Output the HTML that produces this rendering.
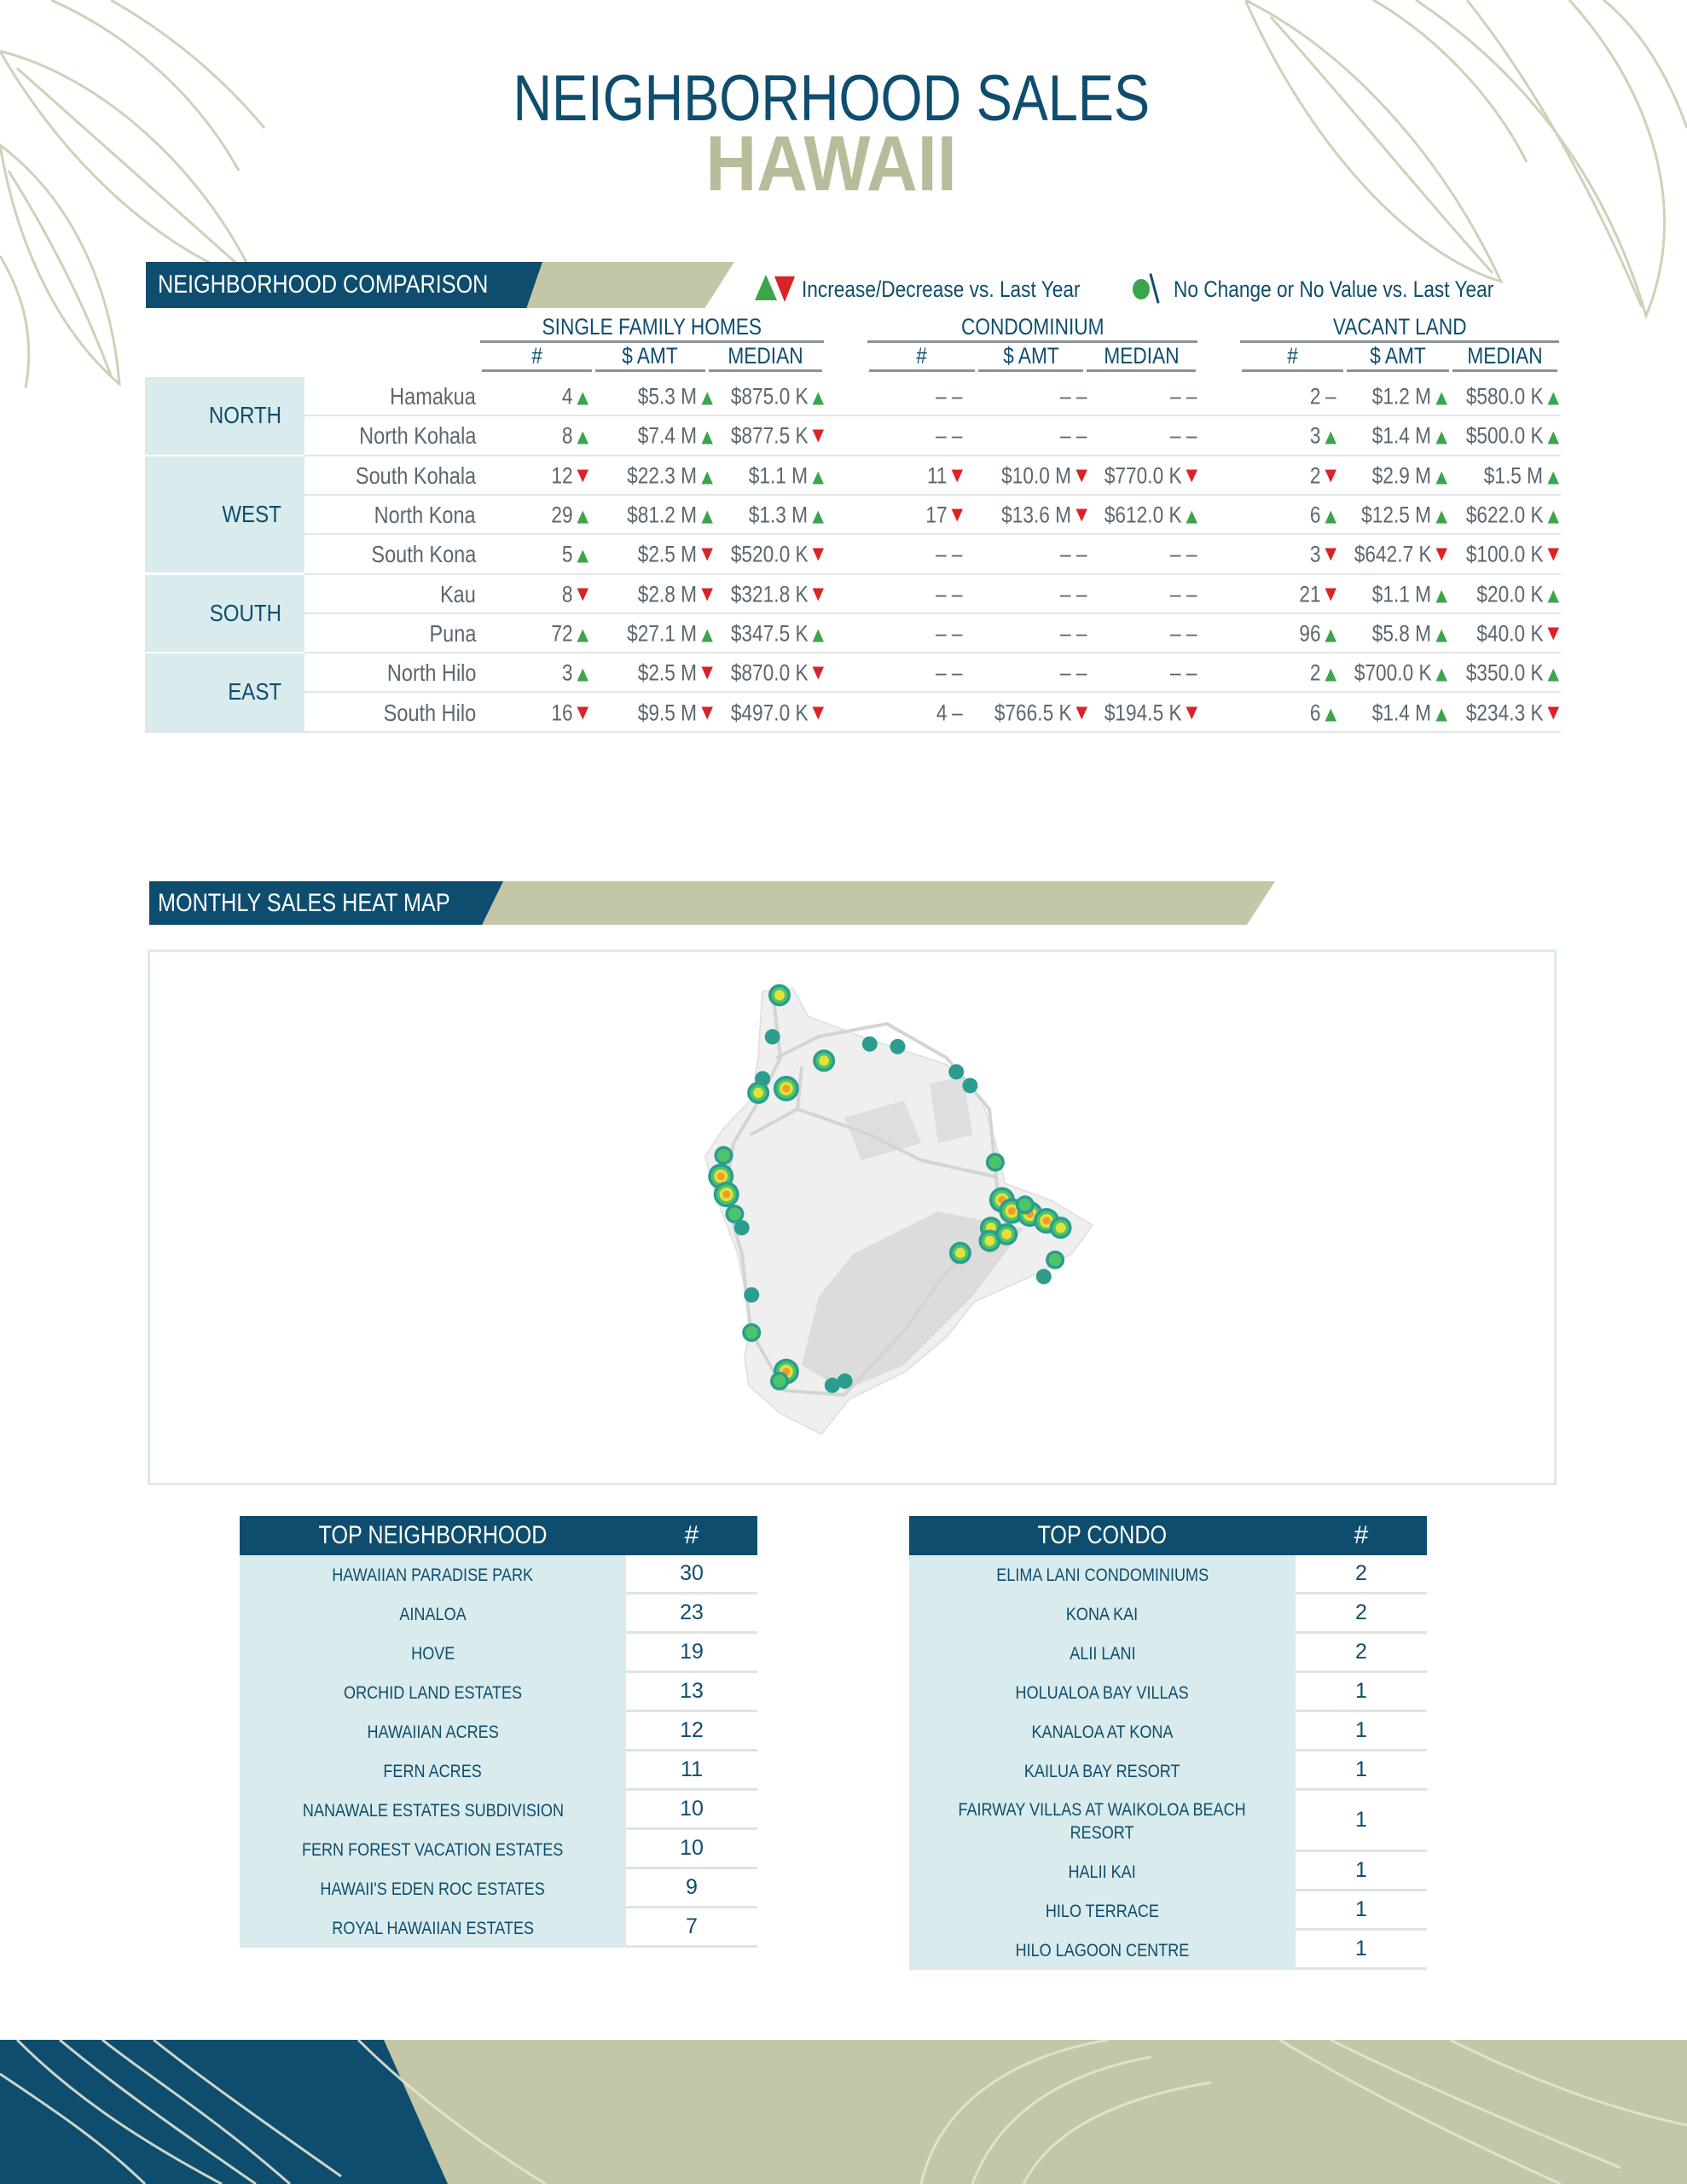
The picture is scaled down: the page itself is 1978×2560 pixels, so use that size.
<!DOCTYPE html>
<html><head><meta charset="utf-8">
<style>
*{margin:0;padding:0;box-sizing:border-box}
body{width:1978px;height:2560px;position:relative;background:#fff;font-family:"Liberation Sans Narrow","Liberation Sans",sans-serif;overflow:hidden;color:#0e4d6e}
.abs{position:absolute}
.t{position:absolute;white-space:nowrap}
.sx{display:inline-block;transform:scaleX(.84);transform-origin:left center}
.sxc{display:inline-block;transform:scaleX(.84);transform-origin:center center}
.up{display:inline-block;width:0;height:0;border-left:8px solid transparent;border-right:8px solid transparent;border-bottom:15px solid #3aa54a;margin-left:6px;vertical-align:-1px}
.dn{display:inline-block;width:0;height:0;border-left:8px solid transparent;border-right:8px solid transparent;border-top:15px solid #d92327;margin-left:6px;vertical-align:1px}
.nc{display:inline-block;width:16px;margin-left:6px;text-align:center}
.cell{position:absolute;white-space:nowrap;text-align:right;font-size:27px;color:#5b6770;transform:translateY(-50%) scaleX(.84);transform-origin:right center}
</style></head><body>
<svg class="abs" style="left:0;top:0" width="330" height="460" viewBox="0 0 330 460">
<g fill="none" stroke="#cfd1b8" stroke-width="3">
<path d="M0 60 C120 90 240 200 300 330 C200 300 80 200 0 60Z"/><path d="M20 80 C110 160 200 240 290 320"/>
<path d="M0 170 C80 230 130 330 140 450 C70 390 20 290 0 170Z"/><path d="M10 200 C60 280 100 360 130 440"/>
<path d="M60 0 C150 40 230 110 280 200"/><path d="M130 0 C200 40 260 90 310 150"/>
<path d="M0 300 C30 350 40 400 30 455"/>
</g></svg>
<svg class="abs" style="left:1460px;top:0" width="518" height="380" viewBox="0 0 518 380">
<g fill="none" stroke="#cfd1b8" stroke-width="3">
<path d="M0 0 C120 60 230 180 300 330 C200 300 80 180 0 0Z"/><path d="M30 20 C120 120 200 220 290 320"/>
<path d="M200 0 C320 80 420 200 470 370 C520 250 480 110 380 0"/><path d="M260 0 C340 100 410 230 465 360"/>
<path d="M150 0 C220 40 290 110 330 190"/><path d="M420 0 C470 40 500 100 518 150"/>
</g></svg>

<div class="t" style="left:0;width:1950px;text-align:center;top:72px;font-size:76px;color:#0e4d6e"><span class="sxc" style="transform:scaleX(.83)">NEIGHBORHOOD SALES</span></div>
<div class="t" style="left:0;width:1950px;text-align:center;top:140px;font-size:92px;font-weight:bold;color:#b9bb9b"><span class="sxc" style="transform:scaleX(.9)">HAWAII</span></div>

<div class="abs" style="left:171px;top:307px;width:690px;height:54px;background:#c4c6a8;clip-path:polygon(0 0,100% 0,95% 100%,0 100%)"></div>
<div class="abs" style="left:171px;top:307px;width:465px;height:54px;background:#0e4d6e;clip-path:polygon(0 0,100% 0,96% 100%,0 100%)"></div>
<div class="t" style="left:185px;top:317px;font-size:30px;color:#fff"><span class="sx">NEIGHBORHOOD COMPARISON</span></div>

<div class="abs" style="left:885px;top:322px;width:0;height:0;border-left:13px solid transparent;border-right:13px solid transparent;border-bottom:30px solid #3aa54a"></div>
<div class="abs" style="left:908px;top:324px;width:0;height:0;border-left:12px solid transparent;border-right:12px solid transparent;border-top:30px solid #d92327"></div>
<div class="t" style="left:940px;top:324px;font-size:27px;color:#0e4d6e"><span class="sx">Increase/Decrease vs. Last Year</span></div>
<div class="abs" style="left:1328px;top:327px;width:20px;height:24px;border-radius:50%;background:#3aa54a"></div>
<div class="abs" style="left:1352px;top:320px;width:3px;height:36px;background:#0e4d6e;transform:rotate(-15deg)"></div>
<div class="t" style="left:1376px;top:324px;font-size:27px;color:#0e4d6e"><span class="sx">No Change or No Value vs. Last Year</span></div>

<div id="cmp"></div>

<div class="abs" style="left:175px;top:1033px;width:1320px;height:51px;background:#c4c6a8;clip-path:polygon(1.5% 0,100% 0,97.5% 100%,0 100%)"></div>
<div class="abs" style="left:175px;top:1033px;width:415px;height:51px;background:#0e4d6e;clip-path:polygon(0 0,100% 0,94% 100%,0 100%)"></div>
<div class="t" style="left:185px;top:1042px;font-size:30px;color:#fff"><span class="sx">MONTHLY SALES HEAT MAP</span></div>
<div class="abs" style="left:173px;top:1113px;width:1652px;height:628px;border:3px solid #dcebea"></div>
<svg id="map" class="abs" style="left:0;top:0" width="1978" height="1800"></svg>

<div id="tops"></div>

<svg class="abs" style="left:0;top:2391px" width="1978" height="169" viewBox="0 0 1978 169">
<rect x="0" y="0" width="1978" height="169" fill="#c4c6a8"/>
<polygon points="0,0 450,0 525,169 0,169" fill="#0e4d6e"/>
<g fill="none" stroke="#e6e4d0" stroke-width="3" opacity="0.9">
<path d="M20 0 C80 60 150 110 260 169"/><path d="M70 0 C130 50 200 100 300 169"/><path d="M120 0 C170 40 250 90 340 169"/><path d="M0 40 C60 80 120 120 170 169"/><path d="M180 0 C230 40 300 90 400 160"/>
<path d="M1080 169 C1100 80 1180 20 1300 0"/><path d="M1140 169 C1170 90 1240 40 1350 20"/><path d="M1200 169 C1230 110 1300 70 1420 50"/>
<path d="M1500 0 C1600 60 1700 110 1830 169"/><path d="M1560 0 C1660 50 1780 100 1900 150"/><path d="M1700 0 C1780 40 1880 80 1978 100"/>
<path d="M420 0 C480 60 560 120 640 169"/>
</g></svg>

<script>
const regions=['NORTH','WEST','SOUTH','EAST'];
const regionSpans=[2,3,2,2];
const neighborhoods=['Hamakua','North Kohala','South Kohala','North Kona','South Kona','Kau','Puna','North Hilo','South Hilo'];
const sfhCount=[4,8,12,29,5,8,72,3,16];
const sfhCountDir=['u','u','d','u','u','d','u','u','d'];
const sfhAmt=[5300,7400,22300,81200,2500,2800,27100,2500,9500];
const sfhAmtDir=['u','u','u','u','d','d','u','d','d'];
const sfhMed=[875.0,877.5,1100,1300,520.0,321.8,347.5,870.0,497.0];
const sfhMedDir=['u','d','u','u','d','d','u','d','d'];
const condoCount=[null,null,11,17,null,null,null,null,4];
const condoCountDir=['','','d','d','','','','','n'];
const condoAmt=[null,null,10000,13600,null,null,null,null,766.5];
const condoAmtDir=['','','d','d','','','','','d'];
const condoMed=[null,null,770.0,612.0,null,null,null,null,194.5];
const condoMedDir=['','','d','u','','','','','d'];
const landCount=[2,3,2,6,3,21,96,2,6];
const landCountDir=['n','u','d','u','d','d','u','u','u'];
const landAmt=[1200,1400,2900,12500,642.7,1100,5800,700.0,1400];
const landAmtDir=['u','u','u','u','d','u','u','u','u'];
const landMed=[580.0,500.0,1500,622.0,100.0,20.0,40.0,350.0,234.3];
const landMedDir=['u','u','u','u','d','u','d','u','d'];

const topNeighborhoods=['HAWAIIAN PARADISE PARK','AINALOA','HOVE','ORCHID LAND ESTATES','HAWAIIAN ACRES','FERN ACRES','NANAWALE ESTATES SUBDIVISION','FERN FOREST VACATION ESTATES',"HAWAII'S EDEN ROC ESTATES",'ROYAL HAWAIIAN ESTATES'];
const topNeighborhoodCounts=[30,23,19,13,12,11,10,10,9,7];
const topCondos=['ELIMA LANI CONDOMINIUMS','KONA KAI','ALII LANI','HOLUALOA BAY VILLAS','KANALOA AT KONA','KAILUA BAY RESORT','FAIRWAY VILLAS AT WAIKOLOA BEACH RESORT','HALII KAI','HILO TERRACE','HILO LAGOON CENTRE'];
const topCondoCounts=[2,2,2,1,1,1,1,1,1,1];

const saleLon=[-155.82,-155.843,-155.875,-155.798,-155.889,-155.675,-155.526,-155.435,-155.244,-155.199,-155.117,-155.095,-156.002,-156.011,-155.993,-155.966,-155.943,-155.911,-155.911,-155.798,-155.82,-155.648,-155.607,-155.231,-155.131,-155.063,-155.004,-154.95,-154.904,-154.922,-154.959,-155.135,-155.08,-155.02];
const saleLat=[20.24,20.113,19.985,19.955,19.942,20.04,20.091,20.083,20.006,19.964,19.73,19.615,19.751,19.687,19.632,19.572,19.53,19.325,19.21,19.091,19.062,19.049,19.062,19.453,19.53,19.581,19.572,19.551,19.53,19.432,19.381,19.49,19.51,19.6];
const saleHeat=[3,1,1,4,3,3,1,1,1,1,2,4,2,4,4,2,1,1,2,4,2,1,1,3,3,4,4,4,3,2,1,3,3,2];

function fmtMoney(v){return v>=1000?'$'+(v/1000).toFixed(1)+' M':'$'+v.toFixed(1)+' K';}
function ind(d){return d==='u'?'<span class="up"></span>':d==='d'?'<span class="dn"></span>':d==='n'?'<span class="nc">–</span>':'';}
const cmp=document.getElementById('cmp');
const rowTop=442,rowH=46.3,tblRight=1830,nbLeft=357;
let ri=0;
regions.forEach((r,k)=>{
  const h=regionSpans[k]*rowH;
  const bg=document.createElement('div');
  bg.className='abs';
  
  
  bg.style.cssText=`left:170px;top:${rowTop+ri*rowH}px;width:187px;height:${h-2}px;background:#d9ebec`;
  cmp.appendChild(bg);
  const tx=document.createElement('div');
  tx.className='t';
  
  
  tx.style.cssText=`left:170px;width:160px;text-align:right;top:${rowTop+ri*rowH+h/2-17}px;font-size:28px;color:#0e4d6e`;
  tx.innerHTML='<span style="display:inline-block;transform:scaleX(.86);transform-origin:right center">'+r+'</span>';
  cmp.appendChild(tx);
  ri+=regionSpans[k];
});
const groups=[['SINGLE FAMILY HOMES',563,966],['CONDOMINIUM',1017,1404],['VACANT LAND',1454,1828]];
const subs=['#','$ AMT','MEDIAN'];
groups.forEach(g=>{
  const t=document.createElement('div');t.className='t';
  
  
  t.style.cssText=`left:${g[1]}px;width:${g[2]-g[1]}px;text-align:center;top:368px;font-size:27px;color:#0e4d6e`;
  t.innerHTML='<span class="sxc">'+g[0]+'</span>';cmp.appendChild(t);
  const l=document.createElement('div');l.className='abs';
  
  
  l.style.cssText=`left:${g[1]}px;top:399px;width:${g[2]-g[1]}px;height:3px;background:#8d9297`;cmp.appendChild(l);
  const w=g[2]-g[1];const bounds=[0,0.33,0.66,1];
  subs.forEach((s,i)=>{
    const x0=g[1]+bounds[i]*w+2,x1=g[1]+bounds[i+1]*w-2;
    const st=document.createElement('div');st.className='t';
    
    
    st.style.cssText=`left:${x0}px;width:${x1-x0}px;text-align:center;top:402px;font-size:27px;color:#0e4d6e`;
    st.innerHTML='<span class="sxc">'+s+'</span>';cmp.appendChild(st);
    const sl=document.createElement('div');sl.className='abs';
    
    
    sl.style.cssText=`left:${x0}px;top:433px;width:${x1-x0}px;height:3px;background:#8d9297`;cmp.appendChild(sl);
  });
});
const colRights=[690,836,966,1129,1275,1404,1567,1697,1828];
const cols=[[sfhCount,sfhCountDir,0],[sfhAmt,sfhAmtDir,1],[sfhMed,sfhMedDir,1],[condoCount,condoCountDir,0],[condoAmt,condoAmtDir,1],[condoMed,condoMedDir,1],[landCount,landCountDir,0],[landAmt,landAmtDir,1],[landMed,landMedDir,1]];
neighborhoods.forEach((n,i)=>{
  const cy=rowTop+i*rowH+rowH/2;
  const nm=document.createElement('div');nm.className='cell';
  
  
  nm.style.cssText+=`right:${1978-558}px;top:${cy}px;font-size:28px`;
  nm.textContent=n;cmp.appendChild(nm);
  cols.forEach((c,j)=>{
    const v=c[0][i];const el=document.createElement('div');el.className='cell';
    
    
    el.style.cssText+=`right:${1978-colRights[j]}px;top:${cy}px`;
    if(v===null||v===undefined){el.innerHTML='– –';}
    else el.innerHTML=(c[2]?fmtMoney(v):v)+ind(c[1][i]);
    cmp.appendChild(el);
  });
  const last=i===neighborhoods.length-1;
  const ln=document.createElement('div');ln.className='abs';
  
  
  ln.style.cssText=`left:${last?170:nbLeft}px;top:${rowTop+(i+1)*rowH-2}px;width:${tblRight-(last?170:nbLeft)}px;height:2px;background:#e3e5e6`;
  cmp.appendChild(ln);
});

const svg=document.getElementById('map');const NS='http://www.w3.org/2000/svg';
function px(lon){return 824+(lon+156.07)/1.27*457;}
function py(lat){return 1155+(20.27-lat)/1.37*526;}
let isl=document.createElementNS(NS,'path');
isl.setAttribute('d','M894 1162 L930 1159 L947 1191 L1012 1216 L1110 1248 L1151 1289 L1167 1338 L1178 1387 L1232 1407 L1281 1436 L1257 1469 L1216 1493 L1142 1526 L1110 1567 L1061 1608 L996 1640 L963 1681 L914 1656 L878 1624 L873 1591 L881 1550 L865 1469 L840 1404 L827 1355 L849 1322 L881 1289 L889 1240 Z');
isl.setAttribute('fill','#efefef');isl.setAttribute('stroke','#e2e2e2');isl.setAttribute('stroke-width','2');


svg.appendChild(isl);
[['M1000 1470 L1100 1420 L1200 1440 L1140 1520 L1060 1600 L990 1630 L940 1600 L960 1520 Z','#dcdcdc'],['M990 1310 L1060 1290 L1080 1340 L1010 1360 Z','#dedede'],['M1090 1270 L1130 1262 L1140 1330 L1100 1340 Z','#dedede']].forEach(p=>{
 const e=document.createElementNS(NS,'path');e.setAttribute('d',p[0]);e.setAttribute('fill',p[1]);
 
 
 svg.appendChild(e);});
const road=document.createElementNS(NS,'path');
road.setAttribute('d','M907 1170 L915 1240 L890 1290 L860 1340 L850 1400 L870 1470 L880 1560 L920 1630 L990 1635 L1060 1560 L1110 1490 L1140 1465 M910 1240 L960 1215 L1040 1200 L1110 1240 L1160 1300 L1170 1400 M940 1250 L935 1300 L880 1330 M935 1300 L1020 1330 L1080 1360 L1170 1380');
road.setAttribute('fill','none');road.setAttribute('stroke','#d4d4d4');road.setAttribute('stroke-width','4');


svg.appendChild(road);
const heatCols=['#2a9d8f','#4cc46a','#e6e03a','#f29a2e','#d8452e'];
saleLon.forEach((lon,i)=>{
  const g=document.createElementNS(NS,'g');
  
  
  const h=saleHeat[i];
  for(let k=0;k<h&&k<5;k++){
    const c=document.createElementNS(NS,'circle');
    c.setAttribute('cx',px(lon));c.setAttribute('cy',py(saleLat[i]));
    c.setAttribute('r',Math.max(3,7+h*2-k*3.5));c.setAttribute('fill',heatCols[k]);
    g.appendChild(c);
  }
  svg.appendChild(g);
});

const tops=document.getElementById('tops');
function buildTop(left,title,names,counts,nameKey){
  const W=607,numX=453,hdrTop=1777,hdrH=46;
  const hd=document.createElement('div');hd.className='abs';
  
  
  hd.style.cssText=`left:${left}px;top:${hdrTop}px;width:${W}px;height:${hdrH}px;background:#0e4d6e;color:#fff;font-size:30px`;
  hd.innerHTML=`<div class="t" style="left:0;width:${numX}px;text-align:center;top:6px"><span class="sxc">${title}</span></div><div class="t" style="left:${numX}px;width:${W-numX}px;text-align:center;top:6px">#</div>`;
  tops.appendChild(hd);
  let y=hdrTop+hdrH;
  names.forEach((n,i)=>{
    const h=n.length>30?72:46;
    const r=document.createElement('div');r.className='abs';
    
    
    r.style.cssText=`left:${left}px;top:${y}px;width:${W}px;height:${h}px`;
    r.innerHTML=`<div class="abs" style="left:0;top:0;width:${numX}px;height:${h}px;background:#d9ebec;display:flex;align-items:center;justify-content:center;text-align:center;font-size:21px;color:#0e4d6e;line-height:27px;padding:0 20px"><span style="display:inline-block;transform:scaleX(.86)">${n.length>30?n.replace(' BEACH RESORT',' BEACH<br>RESORT'):n}</span></div><div class="abs" style="left:${numX}px;top:0;width:${W-numX}px;height:${h-3}px;display:flex;align-items:center;justify-content:center;font-size:25px;color:#0e4d6e">${counts[i]}</div><div class="abs" style="left:${numX}px;top:${h-3}px;width:${W-numX}px;height:3px;background:#e0e2e3"></div>`;
    tops.appendChild(r);
    y+=h;
  });
}
buildTop(281,'TOP NEIGHBORHOOD',topNeighborhoods,topNeighborhoodCounts,'top-neighborhood');
buildTop(1066,'TOP CONDO',topCondos,topCondoCounts,'top-condo');
</script>
</body></html>
